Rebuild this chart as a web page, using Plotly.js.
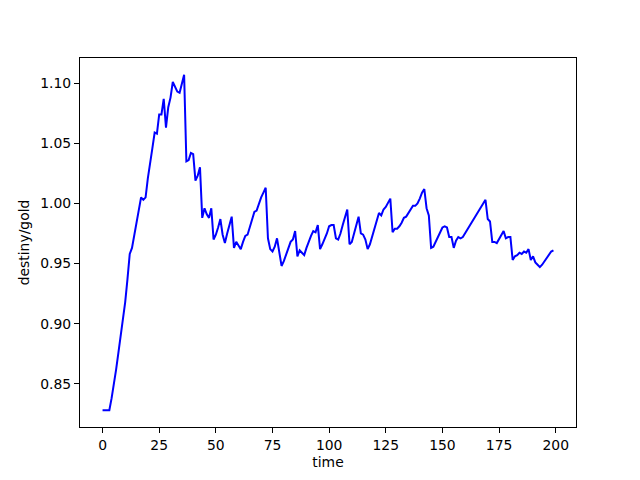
<!DOCTYPE html>
<html>
<head>
<meta charset="utf-8">
<script src="https://cdn.plot.ly/plotly-3.0.1.min.js"></script>
<style>html,body{margin:0;padding:0;background:#fff;}#chart{width:640px;height:480px;}</style>
</head>
<body>
<div id="chart"></div>
<script>
var ratio = [
  0.828, 0.828, 0.828, 0.828, 0.838, 0.849, 0.862, 0.876, 0.889, 0.903,
  0.918, 0.937, 0.958, 0.963, 0.973, 0.983, 0.994, 1.005, 1.003, 1.005,
  1.021, 1.036, 1.046, 1.059, 1.058, 1.074, 1.074, 1.087, 1.063, 1.080,
  1.088, 1.101, 1.097, 1.093, 1.092, 1.100, 1.107, 1.035, 1.036, 1.042,
  1.041, 1.019, 1.023, 1.030, 0.988, 0.996, 0.991, 0.988, 0.996, 0.970,
  0.974, 0.980, 0.987, 0.974, 0.967, 0.975, 0.982, 0.989, 0.963, 0.968,
  0.965, 0.962, 0.968, 0.973, 0.974, 0.980, 0.988, 0.993, 0.994, 1.000,
  1.005, 1.009, 1.013, 0.971, 0.962, 0.960, 0.964, 0.971, 0.960, 0.948,
  0.952, 0.958, 0.962, 0.968, 0.970, 0.977, 0.956, 0.961, 0.959, 0.957,
  0.963, 0.969, 0.973, 0.977, 0.976, 0.982, 0.962, 0.966, 0.970, 0.975,
  0.981, 0.982, 0.982, 0.971, 0.970, 0.975, 0.982, 0.988, 0.995, 0.966,
  0.968, 0.975, 0.982, 0.989, 0.975, 0.974, 0.970, 0.962, 0.966, 0.973,
  0.979, 0.985, 0.992, 0.990, 0.995, 0.997, 1.000, 1.004, 0.976, 0.979,
  0.979, 0.981, 0.984, 0.988, 0.989, 0.992, 0.994, 0.998, 0.998, 1.000,
  1.004, 1.009, 1.012, 0.996, 0.990, 0.963, 0.964, 0.968, 0.973, 0.976,
  0.980, 0.981, 0.980, 0.972, 0.972, 0.963, 0.969, 0.972, 0.971, 0.972,
  0.975, 0.979, 0.982, 0.985, 0.988, 0.990, 0.993, 0.997, 1.000, 1.003,
  0.987, 0.985, 0.968, 0.968, 0.967, 0.970, 0.974, 0.977, 0.971, 0.972,
  0.972, 0.953, 0.956, 0.957, 0.959, 0.958, 0.960, 0.959, 0.962, 0.953,
  0.956, 0.951, 0.949, 0.947, 0.949, 0.952, 0.955, 0.958, 0.960, 0.961
];
var time = [];
for (var i = 0; i < ratio.length; i++) time.push(i);

var xTicks = [0, 25, 50, 75, 100, 125, 150, 175, 200];
var yTicks = [0.85, 0.90, 0.95, 1.00, 1.05, 1.10];

var ymin = Math.min.apply(null, ratio), ymax = Math.max.apply(null, ratio);
var ypad = (ymax - ymin) * 0.05;
var xmin = time[0], xmax = time[time.length - 1];
var xpad = (xmax - xmin) * 0.05;

var font = {family: 'DejaVu Sans, sans-serif', size: 13.9, color: '#000'};

var trace = {
  x: time, y: ratio, type: 'scatter', mode: 'lines',
  line: {color: '#0000ff', width: 2}, hoverinfo: 'skip'
};

var axisCommon = {
  showline: true, linecolor: '#000', linewidth: 1, mirror: true,
  ticks: 'outside', ticklen: 5, tickwidth: 1, tickcolor: '#000',
  showgrid: false, zeroline: false, tickfont: font
};

var layout = {
  width: 640, height: 480,
  margin: {l: 80, r: 64, t: 58, b: 53, pad: 0},
  paper_bgcolor: '#fff', plot_bgcolor: '#fff',
  showlegend: false,
  font: font,
  xaxis: Object.assign({}, axisCommon, {
    range: [xmin - xpad, xmax + xpad],
    tickmode: 'array', tickvals: xTicks, ticktext: xTicks.map(String),
    title: {text: 'time', font: font, standoff: 5}
  }),
  yaxis: Object.assign({}, axisCommon, {
    range: [ymin - ypad, ymax + ypad],
    tickmode: 'array', tickvals: yTicks, ticktext: yTicks.map(function(v){return v.toFixed(2);}),
    title: {text: 'destiny/gold', font: font, standoff: 7}
  })
};

Plotly.newPlot('chart', [trace], layout, {staticPlot: true, displayModeBar: false});
</script>
</body>
</html>
